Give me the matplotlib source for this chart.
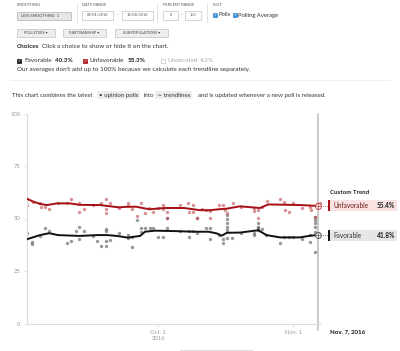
import matplotlib
matplotlib.use("Agg")
import matplotlib.pyplot as plt
from matplotlib.patches import Rectangle
import numpy as np

plt.rcParams['font.family'] = ['Lato', 'DejaVu Sans']

# days after Sep 1, 2016
unfav_trend_day = [0, 1.4, 3, 4.5, 6.8, 9.8, 12, 16.7, 21, 23, 25, 28, 31.5, 36, 39.5, 41.6, 44,
                   45.8, 48.8, 53.4, 55.3, 62.6, 66.7]
unfav_trend_val = [59.3, 58.0, 56.9, 56.4, 57.2, 57.2, 56.5, 56.4, 55.3, 55.6, 55.6, 54.4, 55.0,
                   55.0, 54.0, 53.9, 54.4, 54.7, 55.8, 55.0, 56.7, 56.4, 56.0]
fav_trend_day = [0, 2.9, 5, 7, 12, 16, 18.3, 20.6, 23, 25.9, 27, 29.3, 33.9, 38.5, 41.6, 43.5,
                 44.6, 45.8, 48.8, 53, 54.9, 58, 62.6, 64.9, 66.7]
fav_trend_val = [40.2, 42.1, 43.0, 42.1, 41.7, 42.1, 42.1, 41.7, 40.9, 41.7, 43.7, 44.2, 44.0,
                 43.7, 43.7, 42.9, 41.8, 43.2, 43.3, 44.4, 42.1, 41.0, 41.0, 41.8, 42.1]

unfav_poll_day = [0, 0, 1.4, 2.9, 3.1, 4, 5, 7.1, 9, 10, 11.9, 11.9, 13, 15, 16.9, 18, 18, 18, 19,
                  21.1, 23, 23, 24, 25.1, 26, 27, 28, 28.9, 30, 31.1, 31.1, 32, 32.1, 35, 36.9,
                  37.1, 38, 38.1, 39, 40, 41, 41.9, 42, 44, 45, 45.4, 45.8, 47.1, 49, 52.1, 52.1,
                  53, 53, 53.8, 55, 58, 58.9, 59.1, 60.1, 61, 63, 65, 65.2, 66, 66.4, 67.2]
unfav_poll_val = [59.3, 56.4, 58.0, 57.2, 55.3, 55.3, 54.4, 57.5, 57.5, 59.3, 57.2, 53.2, 54.4,
                  56.4, 57.2, 59.3, 54.4, 52.5, 57.2, 54.9, 57.2, 56.0, 54.3, 51.2, 57.2, 52.5,
                  55.2, 53.3, 55.1, 56.4, 54.4, 53.2, 50.1, 56.4, 57.2, 53.2, 53.2, 56.2, 50.2,
                  54.4, 54.0, 53.7, 50.1, 56.4, 56.4, 54.0, 52.5, 57.5, 55.7, 54.9, 53.8, 54.0,
                  50.2, 55.6, 58.3, 59.4, 57.7, 54.0, 53.2, 57.2, 55.2, 55.6, 54.0, 50.9, 56.7, 57.2]

fav_poll_day = [0, 1, 1.1, 2.9, 4, 5, 9, 10, 11.2, 11.9, 11.9, 13, 15.1, 16, 17, 18, 18, 18, 18,
                19, 21, 23, 23, 24, 24, 25.1, 26, 26, 27, 28.2, 28.9, 30, 31.1, 32, 32.1, 35, 37,
                37.1, 38, 39, 39, 41, 41.9, 41.9, 44.1, 45, 45, 45.8, 45.8, 45.8, 45.8, 45.8, 45.8,
                47, 49, 52.1, 52.1, 53, 53, 53, 53, 53.8, 54.9, 58, 59, 60.1, 61, 63, 65, 65,
                66, 66, 66, 66, 66, 66]
fav_poll_val = [43.2, 39.0, 37.9, 41.7, 45.3, 44.2, 38.2, 39.3, 44.2, 46.1, 40.2, 44.2, 41.7,
                39.3, 37.0, 45.0, 44.0, 39.3, 37.0, 39.8, 43.2, 42.1, 40.6, 41.0, 36.2, 49.3,
                45.3, 43.7, 45.3, 45.3, 45.3, 41.0, 41.0, 45.3, 50.1, 44.2, 44.2, 41.0, 44.2,
                43.2, 50.2, 45.3, 45.3, 40.1, 42.1, 40.1, 38.2, 51.7, 49.6, 47.7, 46.1, 44.5,
                40.6, 40.6, 43.2, 43.0, 42.1, 47.7, 46.1, 45.3, 44.5, 44.9, 42.1, 38.3, 41.1,
                41.3, 41.0, 40.1, 39.0, 42.1, 50.9, 49.3, 47.7, 46.1, 43.7, 34.2]

W, H = 400, 351
fig = plt.figure(figsize=(4, 3.51), dpi=100)
fig.patch.set_facecolor('white')


def P(x, y):
    return x / W, 1 - y / H


def txt(x, y, s, size=4.2, color='#333333', weight='normal', ha='left', va='center', **kw):
    fig.text(*P(x, y), s, fontsize=size, color=color, fontweight=weight, ha=ha, va=va, **kw)


def box(x0, y0, x1, y1, fc='white', ec='#cccccc', lw=0.6):
    fig.add_artist(Rectangle(P(x0, y1), (x1 - x0) / W, (y1 - y0) / H, transform=fig.transFigure,
                             facecolor=fc, edgecolor=ec, linewidth=lw))


def checkbox(x, y, fc):
    box(x, y - 2, x + 4, y + 2, fc=fc, ec=fc)
    txt(x + 2, y, "\u2713", size=3, color='white', ha='center', family='DejaVu Sans')


# ---- controls on top
txt(17, 5, "SMOOTHING", size=2.8, color='#555555')
box(17, 12, 71, 20, fc='#e6e6e6', ec='#bbbbbb')
txt(21, 16, "LESS SMOOTHING  \u21d5", size=2.8, color='#444444')
txt(82, 5, "DATE RANGE", size=2.8, color='#555555')
box(82, 11, 113, 20)
txt(97.5, 15.5, "09/01/2016", size=2.8, color='#555555', ha='center')
txt(117.5, 15.5, "-", size=3, color='#555555', ha='center')
box(122, 11, 153, 20)
txt(137.5, 15.5, "11/08/2016", size=2.8, color='#555555', ha='center')
txt(163, 5, "PERCENT RANGE", size=2.8, color='#555555')
box(163, 11, 178, 20)
txt(170.5, 15.5, "0", size=2.8, color='#555555', ha='center')
txt(181.5, 15.5, "-", size=3, color='#555555', ha='center')
box(185, 11, 201, 20)
txt(193, 15.5, "100", size=2.8, color='#555555', ha='center')
for sx in (77, 157, 207):
    fig.add_artist(plt.Line2D([sx / W] * 2, [1 - 3 / H, 1 - 22 / H], transform=fig.transFigure,
                              color='#dddddd', lw=0.6))
txt(213, 5, "PLOT", size=2.8, color='#555555')
checkbox(213, 15, '#3d8fd6')
txt(218, 15, "Polls", size=4.2, color='#333333')
checkbox(233, 15, '#3d8fd6')
txt(238, 15, "Polling Average", size=4.2, color='#333333')

for x0, x1, s in [(17, 55, "POLLSTERS \u25be"), (63, 106, "PARTISANSHIP \u25be"),
                  (115, 168, "SUBPOPULATIONS \u25be")]:
    box(x0, 29, x1, 37, fc='#eeeeee', ec='#cccccc')
    txt((x0 + x1) / 2, 33, s, size=2.8, color='#444444', ha='center')

txt(17, 47, "Choices", size=4.6, weight='bold', color='#222222')
txt(42, 47, "Click a choice to show or hide it on the chart.", size=4.6, color='#333333')
checkbox(17, 61, '#222222')
txt(24, 61, "Favorable", size=4.6, color='#333333')
txt(55, 61, "40.3%", size=4.6, weight='bold', color='#222222')
checkbox(83, 61, '#b22222')
txt(89, 61, "Unfavorable", size=4.6, color='#333333')
txt(128, 61, "55.3%", size=4.6, weight='bold', color='#222222')
box(161, 59, 165, 63, fc='white', ec='#cccccc')
txt(168, 61, "Undecided", size=4.6, color='#aaaaaa')
txt(200, 61, "4.2%", size=4.6, color='#aaaaaa')
txt(17, 70, "Our averages don't add up to 100% because we calculate each trendline separately.",
    size=4.6, color='#333333')
fig.add_artist(plt.Line2D([10 / W, 390 / W], [1 - 80 / H] * 2, transform=fig.transFigure,
                          color='#eeeeee', lw=0.6))

hl = dict(boxstyle='square,pad=0.3', fc='#eeeeee', ec='none')
txt(12, 95, "This chart combines the latest", size=4.4, color='#333333')
txt(99, 95, "\u2022 opinion polls", size=4.4, color='#333333', bbox=hl)
txt(144, 95, "into", size=4.4, color='#333333')
txt(157, 95, "\u223c trendlines", size=4.4, color='#333333', bbox=hl)
txt(198, 95, "and is updated whenever a new poll is released.", size=4.4, color='#333333')

# ---- chart
ax = fig.add_axes([27.4 / W, 27.5 / H, 293.1 / W, 210 / H])
ax.set_xlim(0, 67.3)
ax.set_ylim(0, 100)
for s in ('top', 'right'):
    ax.spines[s].set_visible(False)
for s in ('left', 'bottom'):
    ax.spines[s].set_color('#dddddd')
    ax.spines[s].set_linewidth(0.8)
ax.set_yticks([0, 25, 50, 75, 100])
ax.set_xticks([30, 61])
ax.set_xticklabels(["Oct. 1\n2016", "Nov. 1"])
ax.tick_params(axis='both', colors='#dddddd', labelcolor='#999999', labelsize=4.2, length=2,
               width=0.6, pad=3)

ax.scatter(fav_poll_day, fav_poll_val, s=6, color='#555555', alpha=0.6, lw=0, zorder=2)
ax.scatter(unfav_poll_day, unfav_poll_val, s=6, color='#c0484e', alpha=0.6, lw=0, zorder=2)
ax.plot(fav_trend_day, fav_trend_val, color='#111111', lw=1.4, zorder=3)
ax.plot(unfav_trend_day, unfav_trend_val, color='#a50f15', lw=1.4, zorder=3)

end_day = 66.7
ax.axvline(end_day, ymin=-0.03, ymax=1.0, color='#bbbbbb', lw=1.1, clip_on=False, zorder=1)
for v, c in [(unfav_trend_val[-1], '#c0484e'), (fav_trend_val[-1], '#555555')]:
    ax.plot([end_day], [v], marker='o', ms=4.2, mfc='white', mec=c, mew=0.7, zorder=4)
    ax.plot([end_day], [v], marker='+', ms=4.2, mec=c, mew=0.5, zorder=5)
    ax.plot([end_day, 69.5], [v, v], ls=':', color=c, lw=0.6, clip_on=False, zorder=1)

# ---- right side labels
txt(330, 193, "Custom Trend", size=4.4, weight='bold', color='#222222')
uy = 323.5 - unfav_trend_val[-1] * 2.1
fy = 323.5 - fav_trend_val[-1] * 2.1
box(328, uy - 5.5, 397, uy + 5.5, fc='#f9e2e2', ec='none')
box(328, uy - 5.5, 330, uy + 5.5, fc='#a50f15', ec='none')
txt(333, uy, "Unfavorable", size=4.7, color='#6b1a1a')
txt(395, uy, "55.4%", size=4.7, weight='bold', color='#222222', ha='right')
box(328, fy - 5.5, 397, fy + 5.5, fc='#e6e6e6', ec='none')
box(328, fy - 5.5, 330, fy + 5.5, fc='#111111', ec='none')
txt(333, fy, "Favorable", size=4.7, color='#333333')
txt(395, fy, "41.8%", size=4.7, weight='bold', color='#222222', ha='right')

txt(330, 332, "Nov. 7, 2016", size=4.4, weight='bold', color='#111111')
fig.add_artist(plt.Line2D([180 / W, 252 / W], [1 - 349.5 / H] * 2, transform=fig.transFigure,
                          color='#dddddd', lw=0.8))

fig.savefig("out.png", dpi=100)
